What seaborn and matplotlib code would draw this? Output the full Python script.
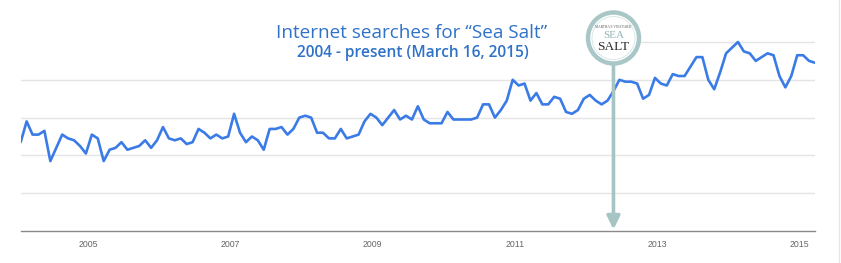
import numpy as np
import pandas as pd
import seaborn as sns
import matplotlib
matplotlib.use("Agg")
import matplotlib.pyplot as plt
from matplotlib.patches import Ellipse

# ---- data (Google Trends style index, monthly Jan 2004 .. Mar 2015) ----
start_year = 2004
interest = [
    47, 58, 51, 51, 53, 37, 44, 51, 49, 48, 45, 41,
    51, 49, 37, 43, 44, 47, 43, 44, 45, 48, 44, 48,
    55, 49, 48, 49, 46, 47, 54, 52, 49, 51, 49, 50,
    62, 52, 47, 50, 48, 43, 54, 54, 55, 51, 54, 60,
    61, 60, 52, 52, 49, 49, 54, 49, 50, 51, 58, 62,
    60, 56, 60, 64, 59, 61, 59, 66, 59, 57, 57, 57,
    63, 59, 59, 59, 59, 60, 67, 67, 60, 64, 69, 80,
    77, 78, 69, 73, 67, 67, 71, 70, 63, 62, 64, 70,
    72, 69, 67, 69, 74, 80, 79, 79, 78, 70, 72, 81,
    78, 77, 83, 82, 82, 87, 92, 92, 80, 75, 84, 94,
    97, 100, 95, 94, 90, 92, 94, 93, 82, 76, 82, 93,
    93, 90, 89,
]
tick_years = [2005, 2007, 2009, 2011, 2013, 2015]
event_month_index = 100  # May 2012 marker
title = "Internet searches for \u201cSea Salt\u201d"
subtitle = "2004 - present (March 16, 2015)"

df = pd.DataFrame({
    "t": start_year + np.arange(len(interest)) / 12.0,
    "interest": interest,
})

sns.set_theme(style="white")
W, H = 841, 263
fig = plt.figure(figsize=(W / 100, H / 100), dpi=100)
fig.patch.set_facecolor("white")

x0, x1 = 20.7, 815.0
y_axis, y_top_val = 231.0, 23.1
ax = fig.add_axes([x0 / W, (H - y_axis) / H, (x1 - x0) / W, (y_axis - y_top_val) / H])

grid_c = "#e4e4e4"
for v in [20, 40, 60, 80]:
    ax.axhline(v, color=grid_c, lw=1.0, zorder=0)
# top gridline only visible to the right of the logo
ax.axhline(100, xmin=(639 - x0) / (x1 - x0), xmax=1, color=grid_c, lw=1.0, zorder=0)

sns.lineplot(data=df, x="t", y="interest", ax=ax, color="#3a7be6", lw=1.9, zorder=3)

ax.set_xlim(df["t"].iloc[0], df["t"].iloc[-1])
ax.set_ylim(0, 110)
for s in ["top", "right", "left"]:
    ax.spines[s].set_visible(False)
ax.spines["bottom"].set_color("#8a8a8a")
ax.spines["bottom"].set_linewidth(1.0)
ax.set_yticks([])
ax.set_xticks([y - 0.055 for y in tick_years])
ax.set_xticklabels([str(y) for y in tick_years])
ax.tick_params(axis="x", length=0, pad=6.5, labelsize=6.3, labelcolor="#666666")
for lab in ax.get_xticklabels():
    lab.set_family(["Liberation Sans", "DejaVu Sans"])
ax.set_xlabel("")
ax.set_ylabel("")

# titles
fig.text(411.5 / W, 1 - 33 / H, title, ha="center", va="center",
         fontsize=13.6, color="#2f72c8", fontweight="medium",
         family=["Open Sans", "DejaVu Sans"])
fig.text(413 / W, 1 - 53 / H, subtitle, ha="center", va="center",
         fontsize=11.2, color="#2f72c8", fontweight="semibold",
         family=["Open Sans", "DejaVu Sans"])

# event arrow
ev_x = df["t"].iloc[event_month_index]
arrow_c = "#a6c4c4"
ax.annotate("", xy=(ev_x, 0.8), xytext=(ev_x, (231 - 66) / 1.89),
            xycoords="data", textcoords="data",
            arrowprops=dict(arrowstyle="-|>,head_length=0.65,head_width=0.32",
                            color=arrow_c, lw=2.6, shrinkA=0, shrinkB=0),
            zorder=5, annotation_clip=False)

# logo badge
cx, cy, r = 613.5, 38.0, 25.5
fig.add_artist(Ellipse((cx / W, 1 - cy / H), 2 * r / W, 2 * r / H,
                       transform=fig.transFigure, facecolor="white",
                       edgecolor="#a9c7c7", lw=3.2, zorder=10))
fig.add_artist(Ellipse((cx / W, 1 - cy / H), 2 * (r - 4) / W, 2 * (r - 4) / H,
                       transform=fig.transFigure, facecolor="none",
                       edgecolor="#d5e4e4", lw=0.6, zorder=11))
fig.text(cx / W, 1 - 27.0 / H, "MARTHA'S VINEYARD", ha="center", va="center",
         fontsize=2.5, color="#555555", family="Liberation Serif", zorder=12)
fig.text(cx / W, 1 - 35.0 / H, "SEA", ha="center", va="center",
         fontsize=8.0, color="#8fb6b6", family="Liberation Serif", zorder=12)
fig.text(cx / W, 1 - 46.5 / H, "SALT", ha="center", va="center",
         fontsize=9.6, color="#2b2b2b", family="Liberation Serif", zorder=12)

# page edge line on the right
fig.add_artist(plt.Line2D([838.5 / W, 838.5 / W], [0, 1], transform=fig.transFigure,
                          color="#e6e6e6", lw=1.0))

fig.savefig("out.png", dpi=100, facecolor="white")
